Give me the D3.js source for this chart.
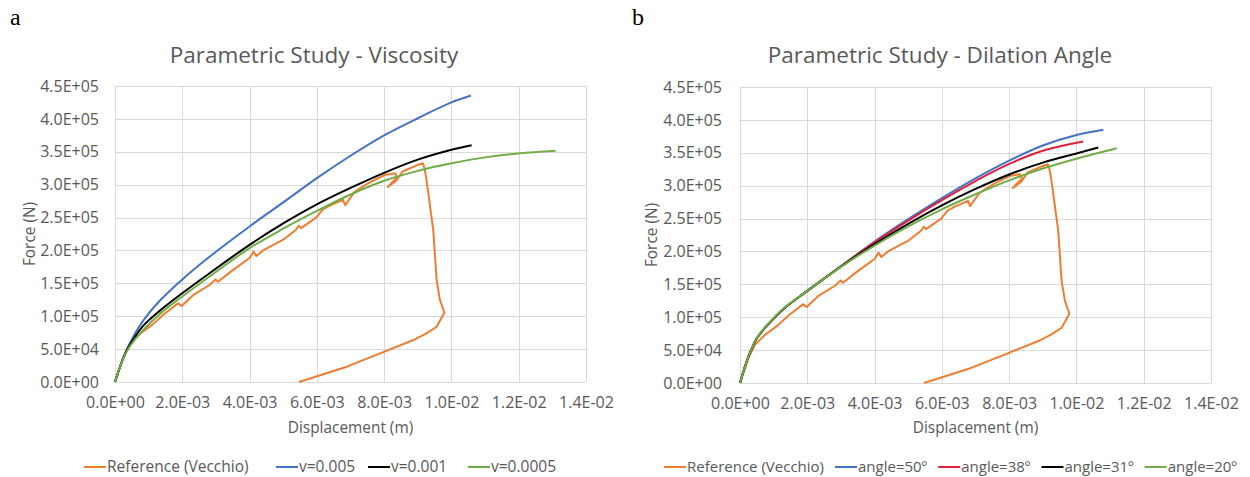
<!DOCTYPE html>
<html>
<head>
<meta charset="utf-8">
<script src="https://cdn.jsdelivr.net/npm/d3@7"></script>
<style>
  body{margin:0;background:#fff;}
  svg text{font-family:"Open Sans",sans-serif;}
</style>
</head>
<body>
<div id="chart"></div>
<script>
// axis ticks (shared by both panels)
var xTicks = [0,0.002,0.004,0.006,0.008,0.010,0.012,0.014];
var xTickLabels = ["0.0E+00","2.0E-03","4.0E-03","6.0E-03","8.0E-03","1.0E-02","1.2E-02","1.4E-02"];
var yTicks = [0,50000,100000,150000,200000,250000,300000,350000,400000,450000];
var yTickLabels = ["0.0E+00","5.0E+04","1.0E+05","1.5E+05","2.0E+05","2.5E+05","3.0E+05","3.5E+05","4.0E+05","4.5E+05"];

// reference test curve (same in both panels) [displacement m, force N]
var refVecchio = [[0,0],[0.00025,38000],[0.00044,58000],[0.00074,73000],[0.00113,88000],[0.00145,103000],
  [0.00178,116000],[0.00188,119500],[0.00198,115500],[0.00232,132000],[0.00281,147500],[0.00299,156000],
  [0.00306,152500],[0.00351,170500],[0.004,188500],[0.00412,198000],[0.0042,191500],[0.0044,200000],
  [0.00499,216000],[0.00538,231500],[0.00546,237500],[0.00553,234000],[0.00598,250000],[0.00617,262000],
  [0.0064,268500],[0.00678,277000],[0.00684,269000],[0.00712,289000],[0.00752,302000],[0.00801,314700],
  [0.00833,317500],[0.00838,311000],[0.00811,296500],[0.00836,306000],[0.00855,320000],[0.009,330000],
  [0.00915,332500],[0.0092,325000],[0.00926,307000],[0.00946,231000],[0.00956,155000],[0.00966,124600],
  [0.00979,105300],[0.00956,84000],[0.00926,74000],[0.00887,63800],[0.00788,43600],[0.00689,23300],[0.00547,0]];

// panel a - viscosity
var visc005 = [[0,0],[0.0003,43000],[0.0006,74000],[0.00085,94000],[0.0013,122000],[0.002,156000],[0.0028,190000],
  [0.004,236500],[0.005,273000],[0.006,310000],[0.007,344000],[0.008,375000],[0.009,401000],[0.010,425000],[0.01058,435500]];
var visc001 = [[0,0],[0.0003,43000],[0.0006,69000],[0.00085,86000],[0.0013,107000],[0.002,135000],[0.0028,165000],
  [0.004,208500],[0.005,241000],[0.006,270000],[0.007,295000],[0.008,318000],[0.009,338000],[0.010,353000],[0.0106,360000]];
var visc0005 = [[0,0],[0.0003,42000],[0.0006,65000],[0.0013,102000],[0.002,130000],[0.0028,160000],[0.004,203500],
  [0.005,233000],[0.006,260000],[0.007,285000],[0.008,306000],[0.009,321000],[0.010,332500],[0.011,341500],
  [0.012,347500],[0.0131,351500]];

// panel b - dilation angle
var angle50 = [[0,0],[0.00025,40000],[0.0005,68000],[0.00085,90000],[0.0013,113000],[0.002,140000],[0.003,177500],
  [0.004,215000],[0.005,249000],[0.006,281000],[0.007,311000],[0.008,338000],[0.009,361000],[0.010,377000],[0.0108,385000]];
var angle38 = [[0,0],[0.00025,40000],[0.0005,68000],[0.00085,90000],[0.0013,113000],[0.002,140000],[0.003,177500],
  [0.004,214000],[0.005,247000],[0.006,278000],[0.007,307000],[0.008,333000],[0.009,353000],[0.0102,367000]];
var angle31 = [[0,0],[0.00025,40000],[0.0005,68000],[0.00085,90000],[0.0013,113000],[0.002,140000],[0.003,177000],
  [0.004,211000],[0.005,242000],[0.006,270000],[0.007,295000],[0.008,317000],[0.009,335000],[0.010,349000],[0.01065,358000]];
var angle20 = [[0,0],[0.00025,40000],[0.0005,68500],[0.00085,90500],[0.0013,113500],[0.002,140000],[0.003,176500],
  [0.004,209000],[0.005,238000],[0.006,264000],[0.007,287000],[0.008,308000],[0.009,326000],[0.010,341000],[0.0112,357000]];

var textGrey = "#595959";
var gridGrey = "#d9d9d9";

var svg = d3.select("#chart").append("svg")
  .attr("width",1250)
  .attr("height",477)
  .style("background","#fff");

function drawPanel(p){
  var g = svg.append("g");
  var x = d3.scaleLinear().domain([0,0.014]).range([p.left,p.right]);
  var y = d3.scaleLinear().domain([0,450000]).range([p.bottom,p.top]);

  //panel letter
  g.append("text").text(p.letter)
    .attr("x",p.letterX).attr("y",25)
    .style("font-family","'Liberation Serif',serif")
    .style("font-size","24px")
    .attr("fill","#000");

  g.append("text").text(p.title)
    .attr("x",p.titleX).attr("y",63)
    .attr("text-anchor","middle")
    .style("font-size","22.5px")
    .attr("fill",textGrey);

  //gridlines
  g.selectAll(".hgrid").data(yTicks).enter().append("line")
    .attr("x1",p.left).attr("x2",p.right)
    .attr("y1",function(d){return Math.round(y(d))+0.5;})
    .attr("y2",function(d){return Math.round(y(d))+0.5;})
    .attr("stroke",gridGrey).attr("stroke-width",1);
  g.selectAll(".vgrid").data(xTicks).enter().append("line")
    .attr("y1",p.top).attr("y2",p.bottom)
    .attr("x1",function(d){return Math.round(x(d))+0.5;})
    .attr("x2",function(d){return Math.round(x(d))+0.5;})
    .attr("stroke",gridGrey).attr("stroke-width",1);

  var xAxis = d3.axisBottom(x).tickValues(xTicks)
    .tickFormat(function(d,i){return xTickLabels[i];})
    .tickSize(0).tickPadding(15);
  var ax = g.append("g").attr("transform","translate(0,"+p.bottom+")").call(xAxis);
  ax.select(".domain").remove();
  ax.selectAll("text").style("font-size","16px").style("font-family","'Open Sans',sans-serif").attr("fill",textGrey);

  var yAxis = d3.axisLeft(y).tickValues(yTicks)
    .tickFormat(function(d,i){return yTickLabels[i];})
    .tickSize(0).tickPadding(p.yPad);
  var ay = g.append("g").attr("transform","translate("+p.left+",0)").call(yAxis);
  ay.select(".domain").remove();
  ay.selectAll("text").style("font-size","16px").style("font-family","'Open Sans',sans-serif").attr("fill",textGrey);

  g.append("text").text("Displacement (m)")
    .attr("x",(p.left+p.right)/2).attr("y",433)
    .attr("text-anchor","middle").style("font-size","15.4px").attr("fill",textGrey);
  g.append("text").text("Force (N)")
    .attr("transform","translate("+p.forceX+","+((p.top+p.bottom)/2)+") rotate(-90)")
    .attr("text-anchor","middle").style("font-size","15.4px").attr("fill",textGrey);

  var line = d3.line().x(function(d){return x(d[0]);}).y(function(d){return y(d[1]);});
  p.series.forEach(function(s){
    g.append("path").datum(s.data)
      .attr("fill","none")
      .attr("stroke",s.color)
      .attr("stroke-width",2)
      .attr("stroke-linejoin","round")
      .attr("d",line.curve(s.smooth ? d3.curveCatmullRom.alpha(0.5) : d3.curveLinear));
  });

  //legend: fixed slots if given, else laid out from measured text widths
  var lx = p.legendX;
  p.series.forEach(function(s,i){
    if(p.legendSlots) lx = p.legendSlots[i];
    g.append("line")
      .attr("x1",lx).attr("x2",lx+p.legendLine)
      .attr("y1",467).attr("y2",467)
      .attr("stroke",s.color).attr("stroke-width",2);
    var t = g.append("text").text(s.name)
      .attr("x",lx+p.legendLine+1).attr("y",467).attr("dy","0.35em")
      .style("font-size",p.legendFont).attr("fill",textGrey);
    lx += p.legendLine + 1 + t.node().getComputedTextLength() + p.legendGap;
  });
}

drawPanel({
  letter:"a", letterX:10, title:"Parametric Study - Viscosity", titleX:314,
  left:115, right:586, top:86, bottom:382, yPad:16, forceX:35,
  legendSlots:[84,276,368,468], legendLine:22, legendGap:0, legendFont:"15.5px",
  series:[
    {name:"Reference (Vecchio)", color:"#ed7d31", data:refVecchio, smooth:false},
    {name:"v=0.005", color:"#4472c4", data:visc005, smooth:true},
    {name:"v=0.001", color:"#000000", data:visc001, smooth:true},
    {name:"v=0.0005", color:"#70ad47", data:visc0005, smooth:true}
  ]
});

drawPanel({
  letter:"b", letterX:632, title:"Parametric Study - Dilation Angle", titleX:940,
  left:740, right:1211, top:87, bottom:383, yPad:18, forceX:657,
  legendX:664, legendLine:22, legendGap:11, legendFont:"15px",
  series:[
    {name:"Reference (Vecchio)", color:"#ed7d31", data:refVecchio, smooth:false},
    {name:"angle=50º", color:"#4472c4", data:angle50, smooth:true},
    {name:"angle=38º", color:"#e0203a", data:angle38, smooth:true},
    {name:"angle=31º", color:"#000000", data:angle31, smooth:true},
    {name:"angle=20º", color:"#70ad47", data:angle20, smooth:true}
  ]
});
</script>
</body>
</html>
